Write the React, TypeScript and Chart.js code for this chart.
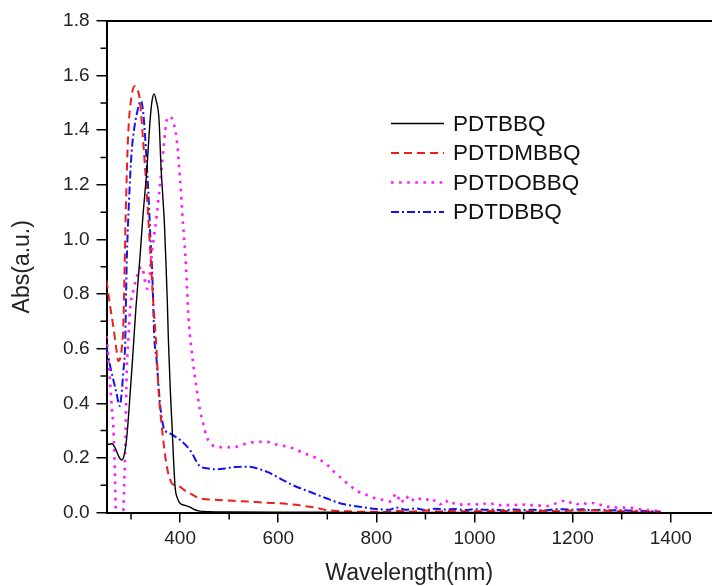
import React, { useEffect, useRef } from "react";
import { Chart, registerables } from "chart.js";

Chart.register(...registerables);

const FONT = "'Liberation Sans', Arial, Helvetica, sans-serif";

const seriesNames = ["PDTBBQ", "PDTDMBBQ", "PDTDOBBQ", "PDTDBBQ"];

const pdtbbqNm = [250, 255, 261, 268, 275, 281, 286, 291, 296, 303, 310, 318, 324, 332, 339, 343, 347, 351, 357, 361, 365, 368, 371, 374, 376, 380, 384, 387, 390, 395, 400, 410, 420, 430, 440, 460, 500, 600, 700, 800, 900, 1000, 1100, 1200, 1300, 1380];
const pdtbbqAbs = [0.25, 0.25, 0.252, 0.235, 0.205, 0.192, 0.21, 0.27, 0.38, 0.56, 0.75, 0.93, 1.08, 1.25, 1.44, 1.51, 1.533, 1.51, 1.44, 1.27, 1.15, 1.06, 0.92, 0.77, 0.64, 0.45, 0.3, 0.18, 0.09, 0.05, 0.034, 0.026, 0.02, 0.01, 0.005, 0.003, 0.002, 0.001, 0.001, 0, 0, 0, 0, 0, 0, 0];

const pdtdmbbqNm = [250, 257, 264, 270, 274, 278, 281, 284, 287, 289, 294, 301, 308, 312, 317, 324, 332, 339, 345, 352, 356, 362, 368, 373, 378, 383, 390, 400, 410, 420, 440, 470, 508, 540, 576, 603, 637, 660, 678, 698, 715, 732, 760, 790, 820, 840, 870, 900, 930, 960, 990, 1020, 1050, 1080, 1110, 1140, 1170, 1200, 1230, 1260, 1290, 1320, 1350, 1380];
const pdtdmbbqAbs = [0.85, 0.76, 0.68, 0.6, 0.555, 0.565, 0.6, 0.67, 0.9, 1.08, 1.377, 1.523, 1.562, 1.55, 1.523, 1.377, 1.17, 0.962, 0.778, 0.595, 0.449, 0.327, 0.23, 0.168, 0.13, 0.107, 0.1, 0.094, 0.08, 0.07, 0.052, 0.047, 0.043, 0.04, 0.036, 0.034, 0.028, 0.022, 0.017, 0.009, 0.006, 0.005, 0.003, 0.003, 0.002, 0.006, 0.003, 0.007, 0.004, 0.006, 0.004, 0.006, 0.005, 0.006, 0.004, 0.006, 0.005, 0.007, 0.008, 0.007, 0.005, 0.004, 0.003, 0.002];

const pdtdobbqNm = [250, 254, 257, 261, 264, 267, 270, 276, 283, 286, 289, 291, 294, 298, 305, 313, 321, 326, 330, 334, 337, 341, 345, 352, 362, 367, 373, 379, 387, 394, 400, 405, 412, 417, 423, 434, 440, 447, 454, 464, 471, 491, 508, 530, 559, 576, 593, 611, 630, 649, 666, 683, 700, 715, 731, 747, 764, 781, 798, 814, 830,
  840, 850, 860, 870, 880, 890, 900, 910, 920, 930, 940, 950, 960, 970, 980, 990, 1000, 1010, 1020, 1030, 1040, 1050, 1060, 1070, 1080, 1090, 1100, 1110, 1120, 1130, 1140, 1150, 1160, 1170, 1180, 1190, 1200, 1210, 1220, 1230, 1240, 1250, 1260, 1270, 1280, 1290, 1300, 1310, 1320, 1330, 1340, 1350, 1360, 1370, 1380];
const pdtdobbqAbs = [0.646, 0.56, 0.485, 0.38, 0.314, 0.15, -0.05, -0.1, -0.05, 0.1, 0.3, 0.5, 0.62, 0.742, 0.815, 0.87, 0.9, 0.875, 0.83, 0.82, 0.85, 0.93, 0.986, 1.083, 1.254, 1.35, 1.438, 1.45, 1.425, 1.352, 1.218, 1.083, 0.9, 0.717, 0.6, 0.449, 0.38, 0.327, 0.278, 0.25, 0.241, 0.239, 0.239, 0.25, 0.259, 0.259, 0.25, 0.244, 0.235, 0.22, 0.208, 0.195, 0.174, 0.147, 0.122, 0.097, 0.076, 0.064, 0.052, 0.046, 0.04,
  0.07, 0.035, 0.06, 0.04, 0.055, 0.05, 0.052, 0.038, 0.045, 0.03, 0.045, 0.03, 0.035, 0.028, 0.034, 0.03, 0.033, 0.027, 0.032, 0.028, 0.033, 0.026, 0.031, 0.027, 0.03, 0.025, 0.029, 0.024, 0.028, 0.025, 0.027, 0.024, 0.03, 0.036, 0.042, 0.033, 0.04, 0.031, 0.037, 0.03, 0.035, 0.027, 0.028, 0.02, 0.024, 0.018, 0.02, 0.015, 0.017, 0.012, 0.012, 0.008, 0.01, 0.006, 0.004];

const pdtdbbqNm = [250, 257, 264, 270, 277, 281, 284, 288, 291, 296, 301, 306, 312, 320, 325, 332, 337, 339, 344, 347, 352, 359, 366, 372, 379, 390, 400, 420, 440, 454, 475, 495, 508, 542, 563, 580, 603, 630, 664, 698, 732, 766, 800, 827,
  840, 860, 880, 900, 920, 940, 960, 980, 1000, 1020, 1040, 1060, 1080, 1100, 1120, 1140, 1160, 1180, 1200, 1220, 1240, 1260, 1280, 1300, 1320, 1340, 1360, 1380];
const pdtdbbqAbs = [0.605, 0.54, 0.485, 0.44, 0.39, 0.44, 0.51, 0.62, 0.9, 1.145, 1.316, 1.4, 1.462, 1.508, 1.462, 1.279, 1.108, 1.023, 0.84, 0.656, 0.559, 0.4, 0.314, 0.295, 0.29, 0.278, 0.266, 0.229, 0.17, 0.162, 0.158, 0.162, 0.166, 0.168, 0.158, 0.147, 0.125, 0.1, 0.076, 0.052, 0.031, 0.021, 0.013, 0.01,
  0.018, 0.01, 0.015, 0.009, 0.014, 0.011, 0.013, 0.009, 0.012, 0.01, 0.011, 0.008, 0.011, 0.009, 0.01, 0.008, 0.011, 0.012, 0.01, 0.012, 0.009, 0.01, 0.008, 0.008, 0.007, 0.006, 0.005, 0.003];

const xTickValues = [400, 600, 800, 1000, 1200, 1400];
const xMinorTickValues = [300, 500, 700, 900, 1100, 1300];
const yTickValues = [0, 0.2, 0.4, 0.6, 0.8, 1.0, 1.2, 1.4, 1.6, 1.8];
const yMinorTickValues = [0.1, 0.3, 0.5, 0.7, 0.9, 1.1, 1.3, 1.5, 1.7];

const toPoints = (xs: number[], ys: number[]) => xs.map((x, i) => ({ x, y: ys[i] }));

const styles = [
  { color: "#000000", width: 1.4, dash: [] as number[] },
  { color: "#f01c1c", width: 2, dash: [8, 5] },
  { color: "#ff1aff", width: 2.6, dash: [2.6, 5.5] },
  { color: "#1414f0", width: 2, dash: [8, 3, 2, 3] },
];

const minorTicksPlugin = {
  id: "minorTicks",
  afterDraw(chart: any) {
    const { ctx, chartArea, scales } = chart;
    ctx.save();
    ctx.strokeStyle = "#000";
    ctx.lineWidth = 1.5;
    ctx.beginPath();
    xMinorTickValues.forEach((v) => {
      const px = scales.x.getPixelForValue(v);
      ctx.moveTo(px, chartArea.bottom);
      ctx.lineTo(px, chartArea.bottom + 7);
    });
    yMinorTickValues.forEach((v) => {
      const py = scales.y.getPixelForValue(v);
      ctx.moveTo(chartArea.left - 6, py);
      ctx.lineTo(chartArea.left, py);
    });
    ctx.stroke();
    ctx.lineWidth = 2;
    ctx.beginPath();
    ctx.moveTo(chartArea.left - 1, chartArea.top);
    ctx.lineTo(chartArea.right, chartArea.top);
    ctx.stroke();
    ctx.restore();
  },
};

const legendPlugin = {
  id: "innerLegend",
  afterDraw(chart: any) {
    const { ctx } = chart;
    ctx.save();
    chart.data.datasets.forEach((ds: any, i: number) => {
      const y = 123.5 + i * 29.5;
      ctx.strokeStyle = ds.borderColor;
      ctx.lineWidth = ds.borderWidth;
      ctx.setLineDash(ds.borderDash || []);
      ctx.beginPath();
      ctx.moveTo(391, y);
      ctx.lineTo(444, y);
      ctx.stroke();
      ctx.setLineDash([]);
      ctx.fillStyle = "#111";
      ctx.font = `22.5px ${FONT}`;
      ctx.textBaseline = "middle";
      ctx.textAlign = "left";
      ctx.fillText(ds.label, 453, y + 1);
    });
    ctx.restore();
  },
};

export default function App() {
  const ref = useRef<HTMLCanvasElement | null>(null);

  useEffect(() => {
    document.body.style.margin = "0";
    document.body.style.overflow = "hidden";
    const canvas = ref.current;
    if (!canvas) return;
    const data = [
      toPoints(pdtbbqNm, pdtbbqAbs),
      toPoints(pdtdmbbqNm, pdtdmbbqAbs),
      toPoints(pdtdobbqNm, pdtdobbqAbs),
      toPoints(pdtdbbqNm, pdtdbbqAbs),
    ];
    const chart = new Chart(canvas, {
      type: "line",
      data: {
        datasets: seriesNames.map((name, i) => ({
          label: name,
          data: data[i],
          borderColor: styles[i].color,
          backgroundColor: styles[i].color,
          borderWidth: styles[i].width,
          borderDash: styles[i].dash,
          pointRadius: 0,
          fill: false,
          cubicInterpolationMode: "monotone" as const,
        })),
      },
      options: {
        animation: false,
        responsive: false,
        maintainAspectRatio: false,
        layout: { padding: { top: 21, right: 0, bottom: 0, left: 0 } },
        plugins: {
          legend: { display: false },
          tooltip: { enabled: false },
        },
        scales: {
          x: {
            type: "linear",
            min: 250,
            max: 1484,
            afterBuildTicks: (s: any) => {
              s.ticks = xTickValues.map((v) => ({ value: v }));
            },
            afterFit: (s: any) => {
              s.height = 73.5;
            },
            ticks: {
              autoSkip: false,
              maxRotation: 0,
              padding: 5,
              color: "#222",
              font: { family: FONT, size: 19 },
              callback: (v: any) => String(v),
            },
            grid: { drawOnChartArea: false, drawTicks: true, tickLength: 10, color: "#000", lineWidth: 1.5 },
            border: { color: "#000", width: 2 },
            title: {
              display: true,
              text: "Wavelength(nm)",
              color: "#222",
              font: { family: FONT, size: 23, lineHeight: 1.1 },
              padding: { top: 0, bottom: 0 },
            },
          },
          y: {
            type: "linear",
            min: 0,
            max: 1.8,
            afterBuildTicks: (s: any) => {
              s.ticks = yTickValues.map((v) => ({ value: v }));
            },
            afterFit: (s: any) => {
              s.width = 106.5;
            },
            ticks: {
              autoSkip: false,
              padding: 7,
              color: "#222",
              font: { family: FONT, size: 19 },
              callback: (v: any) => Number(v).toFixed(1),
            },
            grid: { drawOnChartArea: false, drawTicks: true, tickLength: 10, color: "#000", lineWidth: 1.5 },
            border: { color: "#000", width: 2 },
            title: {
              display: true,
              text: "Abs(a.u.)",
              color: "#222",
              font: { family: FONT, size: 23, lineHeight: 1.1 },
              padding: { top: 10, bottom: 0 },
            },
          },
        },
      },
      plugins: [minorTicksPlugin, legendPlugin],
    } as any);
    return () => chart.destroy();
  }, []);

  return <canvas ref={ref} width={712} height={586} style={{ display: "block" }} />;
}
